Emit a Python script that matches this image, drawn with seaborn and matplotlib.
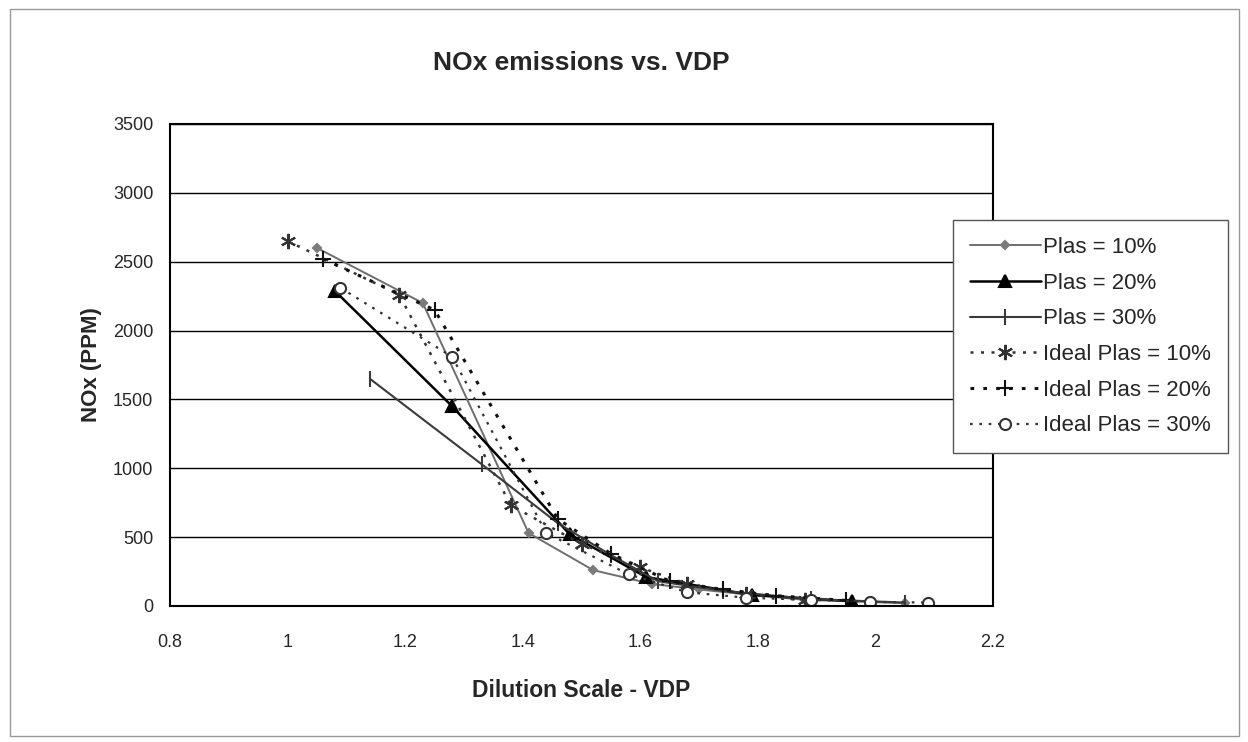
import numpy as np
import pandas as pd
import matplotlib
matplotlib.use('Agg')
import matplotlib.pyplot as plt
import seaborn as sns
from matplotlib.patches import Rectangle

# valores (VDP x NOx em PPM)
plas10_x = [1.05, 1.23, 1.41, 1.52, 1.62, 1.70, 1.79, 1.88, 2.05]
plas10_y = [2600, 2200, 530, 260, 160, 120, 80, 45, 20]

plas20_x = [1.08, 1.28, 1.48, 1.61, 1.79, 1.96]
plas20_y = [2290, 1450, 520, 210, 80, 35]

plas30_x = [1.14, 1.33, 1.46, 1.55, 1.63, 1.74, 1.89, 2.05]
plas30_y = [1650, 1030, 600, 370, 180, 110, 50, 25]

ideal10_x = [1.00, 1.19, 1.38, 1.50, 1.60, 1.68, 1.78, 1.88]
ideal10_y = [2650, 2260, 730, 450, 280, 160, 85, 40]

ideal20_x = [1.06, 1.25, 1.46, 1.55, 1.65, 1.74, 1.83, 1.95]
ideal20_y = [2520, 2150, 630, 380, 180, 120, 75, 40]

ideal30_x = [1.09, 1.28, 1.44, 1.58, 1.68, 1.78, 1.89, 1.99, 2.09]
ideal30_y = [2310, 1810, 530, 230, 100, 60, 45, 30, 25]

series = [
    ('Plas = 10%', plas10_x, plas10_y, dict(color='#6e6e6e', lw=1.4, ls='-', marker='D', ms=4, mfc='#7a7a7a', mec='#7a7a7a')),
    ('Plas = 20%', plas20_x, plas20_y, dict(color='black', lw=1.8, ls='-', marker='^', ms=9, mfc='black', mec='black')),
    ('Plas = 30%', plas30_x, plas30_y, dict(color='#3a3a3a', lw=1.5, ls='-', marker='|', ms=11, mfc='#3a3a3a', mec='#3a3a3a')),
    ('Ideal Plas = 10%', ideal10_x, ideal10_y, dict(color='#333333', lw=1.8, ls=(0, (1.2, 3)), marker=(6, 2, 0), ms=11, mfc='none', mec='#333333')),
    ('Ideal Plas = 20%', ideal20_x, ideal20_y, dict(color='#111111', lw=2.2, ls=(0, (1.2, 3)), marker='+', ms=12, mfc='none', mec='#111111')),
    ('Ideal Plas = 30%', ideal30_x, ideal30_y, dict(color='#333333', lw=1.6, ls=(0, (1.2, 3)), marker='o', ms=8, mfc='white', mec='#333333')),
]

sns.set_style('white')
plt.rcParams['font.family'] = ['Liberation Sans', 'DejaVu Sans']

fig = plt.figure(figsize=(12.48, 7.42), dpi=100)
ax = fig.add_axes([0.1362, 0.1833, 0.6595, 0.6496])

for nome, xs, ys, st in series:
    df = pd.DataFrame({'x': xs, 'y': ys})
    sns.lineplot(data=df, x='x', y='y', ax=ax, sort=False, label=nome,
                 color=st['color'], linewidth=st['lw'], linestyle=st['ls'],
                 marker=st['marker'], markersize=st['ms'],
                 markerfacecolor=st['mfc'], markeredgecolor=st['mec'],
                 markeredgewidth=1.5)

ax.set_xlim(0.8, 2.2)
ax.set_ylim(0, 3500)
ax.set_xticks(np.arange(0.8, 2.21, 0.2))
ax.set_xticklabels(['0.8', '1', '1.2', '1.4', '1.6', '1.8', '2', '2.2'])
ax.set_yticks(range(0, 3501, 500))
ax.tick_params(axis='both', labelsize=13, length=4, direction='out', color='black')
ax.tick_params(axis='x', pad=16)
ax.tick_params(axis='y', pad=8)
ax.yaxis.grid(True, color='black', linewidth=1.0)
ax.set_axisbelow(True)
for s in ax.spines.values():
    s.set_color('black')
    s.set_linewidth(1.5)

ax.set_xlabel('Dilution Scale - VDP', fontsize=16.5, fontweight='bold', labelpad=20)
ax.set_ylabel('NOx (PPM)', fontsize=16, fontweight='bold', labelpad=8)
fig.text(0.466, 0.915, 'NOx emissions vs. VDP', ha='center', va='center',
         fontsize=19, fontweight='bold')

leg = ax.legend(loc='upper left', bbox_to_anchor=(0.7636, 0.703), bbox_transform=fig.transFigure,
                fontsize=16, frameon=True, fancybox=False, handlelength=3.2,
                handletextpad=0.1, labelspacing=0.66, borderpad=0.75, borderaxespad=0)
leg.get_frame().set_edgecolor('#555555')
leg.get_frame().set_linewidth(1.0)
leg.get_frame().set_alpha(1)

# moldura externa do gráfico
fig.patches.append(Rectangle((0.008, 0.008), 0.985, 0.98, transform=fig.transFigure,
                             fill=False, edgecolor='#999999', linewidth=1.0))

fig.savefig('out.png', dpi=100)
